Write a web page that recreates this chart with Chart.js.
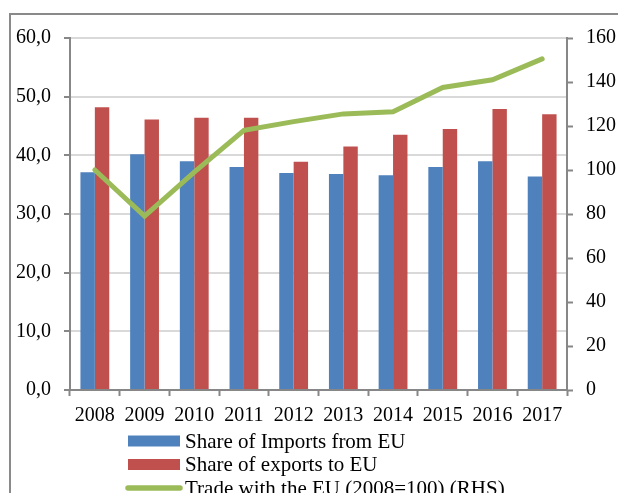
<!DOCTYPE html>
<html>
<head>
<meta charset="utf-8">
<script src="https://cdn.jsdelivr.net/npm/chart.js@4/dist/chart.umd.min.js"></script>
<style>
  html, body { margin: 0; padding: 0; background: #fff; overflow: hidden; }
  #frame { position: absolute; left: 9px; top: 13px; width: 700px; height: 700px; border: 2px solid #8a8a8a; box-sizing: border-box; }
  #wrap { position: absolute; left: 0; top: 0; width: 618px; height: 493px; }
</style>
</head>
<body>
<div id="frame"></div>
<div id="wrap"><canvas id="c" width="618" height="493"></canvas></div>
<script>
const years = ['2008','2009','2010','2011','2012','2013','2014','2015','2016','2017'];
const importsShare = [37.1, 40.2, 39.0, 38.0, 37.0, 36.8, 36.6, 38.0, 39.0, 36.4];
const exportsShare = [48.2, 46.1, 46.4, 46.4, 38.9, 41.5, 43.5, 44.5, 47.9, 47.0];
const tradeIndex = [100, 79, 99, 118, 122, 125.5, 126.5, 137.5, 141, 150.5];
const seriesNames = ['Share of Imports from EU', 'Share of exports to EU', 'Trade with the EU (2008=100) (RHS)'];

const FONT = 'Liberation Serif';
const BLUE = '#4F81BD', RED = '#C0504D', GREEN = '#9BBB59';
const AXIS = '#878787', GRID = '#d9d9d9';

const legendPlugin = {
  id: 'stackedLegend',
  afterDraw(chart) {
    const ctx = chart.ctx;
    ctx.save();
    ctx.font = '21px "' + FONT + '"';
    ctx.textBaseline = 'middle';
    ctx.textAlign = 'left';
    [0, 1, 2].forEach((di, i) => {
      const ds = chart.data.datasets[di];
      const yc = 441 + i * 23.5;
      if (ds.type === 'line') {
        ctx.strokeStyle = ds.borderColor;
        ctx.lineWidth = 5.5;
        ctx.lineCap = 'round';
        ctx.beginPath();
        ctx.moveTo(128, yc);
        ctx.lineTo(180, yc);
        ctx.stroke();
      } else {
        ctx.fillStyle = ds.backgroundColor;
        ctx.fillRect(128, yc - 5.5, 52, 11);
      }
      ctx.fillStyle = '#000';
      ctx.fillText(ds.label, 185, yc + 1);
    });
    ctx.restore();
  }
};

new Chart(document.getElementById('c'), {
  data: {
    labels: years,
    datasets: [
      { type: 'bar', label: seriesNames[0], data: importsShare, backgroundColor: BLUE, yAxisID: 'y', order: 1,
        categoryPercentage: 0.58, barPercentage: 1.0 },
      { type: 'bar', label: seriesNames[1], data: exportsShare, backgroundColor: RED, yAxisID: 'y', order: 2,
        categoryPercentage: 0.58, barPercentage: 1.0 },
      { type: 'line', label: seriesNames[2], data: tradeIndex, borderColor: GREEN, backgroundColor: GREEN,
        borderWidth: 5, pointRadius: 0, tension: 0, borderCapStyle: 'round', borderJoinStyle: 'miter',
        yAxisID: 'y1', order: 0 }
    ]
  },
  options: {
    responsive: false,
    animation: false,
    events: [],
    layout: { padding: { top: 38, left: 0, right: 0, bottom: 0 } },
    plugins: { legend: { display: false }, tooltip: { enabled: false }, title: { display: false } },
    scales: {
      x: {
        grid: { offset: true, drawOnChartArea: false, drawTicks: true, tickLength: 6, tickColor: AXIS, tickWidth: 2 },
        border: { color: AXIS, width: 2 },
        ticks: { color: '#000', font: { family: FONT, size: 20 }, padding: 8, maxRotation: 0, autoSkip: false },
        afterFit(s) { s.height = 103; }
      },
      y: {
        position: 'left',
        min: 0, max: 60,
        grid: { color: GRID, lineWidth: 2, drawTicks: true, tickLength: 6, tickColor: AXIS, tickWidth: 2 },
        border: { color: AXIS, width: 2 },
        ticks: { stepSize: 10, color: '#000', font: { family: FONT, size: 20 }, padding: 13,
          callback: v => v.toFixed(1).replace('.', ',') },
        afterFit(s) { s.width = 70; }
      },
      y1: {
        position: 'right',
        min: 0, max: 160,
        grid: { drawOnChartArea: false, drawTicks: true, tickLength: 6, tickColor: AXIS, tickWidth: 2 },
        border: { color: AXIS, width: 2 },
        ticks: { stepSize: 20, color: '#000', font: { family: FONT, size: 20 }, padding: 13 },
        afterFit(s) { s.width = 51; }
      }
    }
  },
  plugins: [legendPlugin]
});
</script>
</body>
</html>
